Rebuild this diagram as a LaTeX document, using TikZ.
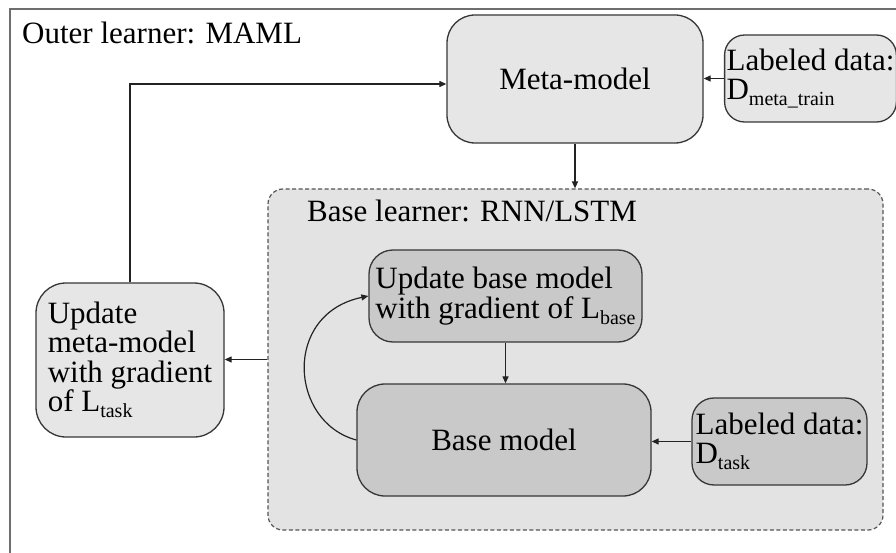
\documentclass[tikz,border=0pt]{standalone}
\usepackage{fontspec}
\setmainfont{Liberation Serif}
\usetikzlibrary{arrows.meta}
\definecolor{lightfill}{RGB}{230,230,230}
\definecolor{regionfill}{RGB}{227,227,227}
\definecolor{darkfill}{RGB}{201,201,201}
\definecolor{bordc}{RGB}{55,55,55}
\definecolor{framec}{RGB}{110,110,110}
\definecolor{linec}{RGB}{35,35,35}
\newcommand\mainsz{\fontsize{31pt}{29.5pt}\selectfont}
\newcommand\subs[1]{\raisebox{-6pt}{\fontsize{20pt}{20pt}\selectfont #1}}
\begin{document}
\begin{tikzpicture}[x=1pt,y=-1pt,
  lightbox/.style={draw=bordc, fill=lightfill, line width=1.3pt, inner sep=2pt, align=left, font=\mainsz},
  darkbox/.style={draw=bordc, fill=darkfill, line width=1.3pt, inner sep=2pt, align=left, font=\mainsz},
  region/.style={draw=bordc!85, fill=regionfill, line width=1.2pt, dash pattern=on 4pt off 2.5pt, rounded corners=15pt},
  titletext/.style={anchor=base west, inner sep=0pt, font=\mainsz},
  conn/.style={draw=linec, line width=1.2pt, -{Triangle[length=7pt,width=6pt]}}
]
\useasboundingbox (0,0) rectangle (896,553);
\fill[white] (0,0) rectangle (896,553);
\draw[framec, line width=1.5pt] (10,553) -- (10,9) -- (896,9);
\node[titletext] (title) at (22,44) {Outer learner: MAML};

% base learner region
\node[region, minimum width=615pt, minimum height=341pt] (bl) at (575.5,359.5) {};
\node[titletext] (bltitle) at (307,222) {Base learner: RNN/LSTM};

% outer boxes
\node[lightbox, rounded corners=28pt, minimum width=256pt, minimum height=128pt] (meta) at (575,79) {Meta-model};
\node[lightbox, rounded corners=20pt, minimum width=169pt, minimum height=87pt] (lmt) at (810.5,78.5) {Labeled data:\\D\subs{meta\_train}};
\node[lightbox, rounded corners=30pt, minimum width=188pt, minimum height=154pt] (umeta) at (130,360) {Update\\meta-model\\with gradient\\of L\subs{task}};

% inner boxes
\node[darkbox, rounded corners=24pt, minimum width=273pt, minimum height=92pt] (ubase) at (505.5,296) {Update base model\\with gradient of L\subs{base}};
\node[darkbox, rounded corners=28pt, minimum width=294pt, minimum height=112pt] (base) at (504,440) {Base model};
\node[darkbox, rounded corners=22pt, minimum width=175pt, minimum height=87pt] (dtask) at (779.5,441.5) {Labeled data:\\D\subs{task}};

% connectors
\draw[conn] (lmt.west) -- (lmt.west -| meta.east);
\draw[conn] (meta.south) -- (meta.south |- bl.north);
\draw[conn] (bl.west) -- (bl.west -| umeta.east);
\draw[conn] (umeta.north) |- ([yshift=-5pt]meta.west);
\draw[conn] (ubase.south) -- (ubase.south |- base.north);
\draw[conn] (dtask.west) -- (dtask.west -| base.east);
\draw[conn] (base.west) .. controls +(-67,-18) and +(-86,18) .. (ubase.west);
\end{tikzpicture}
\end{document}
